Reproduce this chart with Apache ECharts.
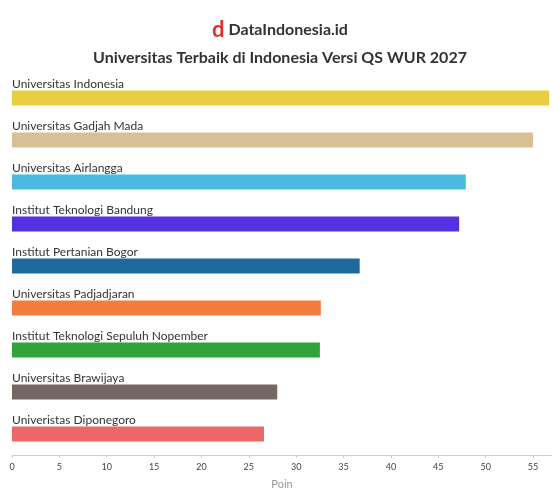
<!DOCTYPE html>
<html><head><meta charset="utf-8">
<script src="https://cdn.jsdelivr.net/npm/echarts@6/dist/echarts.min.js"></script>
<style>html,body{margin:0;padding:0;background:#fff}#c{width:560px;height:496px}</style>
</head><body><div id="c"></div>
<script>
const categories = ["Universitas Indonesia","Universitas Gadjah Mada","Universitas Airlangga","Institut Teknologi Bandung","Institut Pertanian Bogor","Universitas Padjadjaran","Institut Teknologi Sepuluh Nopember","Universitas Brawijaya","Univeristas Diponegoro"];
const values = [56.7, 55.0, 47.9, 47.2, 36.7, 32.6, 32.5, 28.0, 26.6];
const colors = ["#e8cf3f","#d8bf94","#4cb9e0","#5331e0","#1f6a9c","#f47c3c","#2fa43a","#756763","#ec6767"];
const chart = echarts.init(document.getElementById('c'));
chart.setOption({
  animation:false,
  title:[{text:"Universitas Terbaik di Indonesia Versi QS WUR 2027",left:'center',top:45,textStyle:{fontFamily:'Lato',fontSize:16,fontWeight:'bold',color:'#333'}},
         {text:"{i|d} DataIndonesia.id",left:'center',top:14,textStyle:{fontFamily:'Lato',fontSize:16,fontWeight:'bold',color:'#333',rich:{i:{color:'#e0312c',fontSize:22,fontWeight:'bold',fontFamily:'Lato'}}}}],
  grid:{left:12,right:8,top:77,bottom:41},
  xAxis:{type:'value',min:0,max:57,interval:5,name:'Poin',nameLocation:'middle',nameGap:24,
    nameTextStyle:{color:'#999',fontFamily:'Lato',fontSize:11},
    axisLabel:{color:'#444',fontSize:9,fontFamily:'Lato',showMaxLabel:false},
    splitLine:{show:false},axisLine:{show:true,lineStyle:{color:'#ccc'}},axisTick:{show:true,length:3,lineStyle:{color:'#ccc'}}},
  yAxis:{type:'category',data:categories,inverse:true,show:false},
  series:[{type:'bar',barWidth:15,data:values.map((v,i)=>({value:v,itemStyle:{color:colors[i]}})),
    label:{show:true,position:[0,-12],formatter:p=>categories[p.dataIndex],color:'#333',fontFamily:'Lato',fontSize:12}}]
});
</script></body></html>
